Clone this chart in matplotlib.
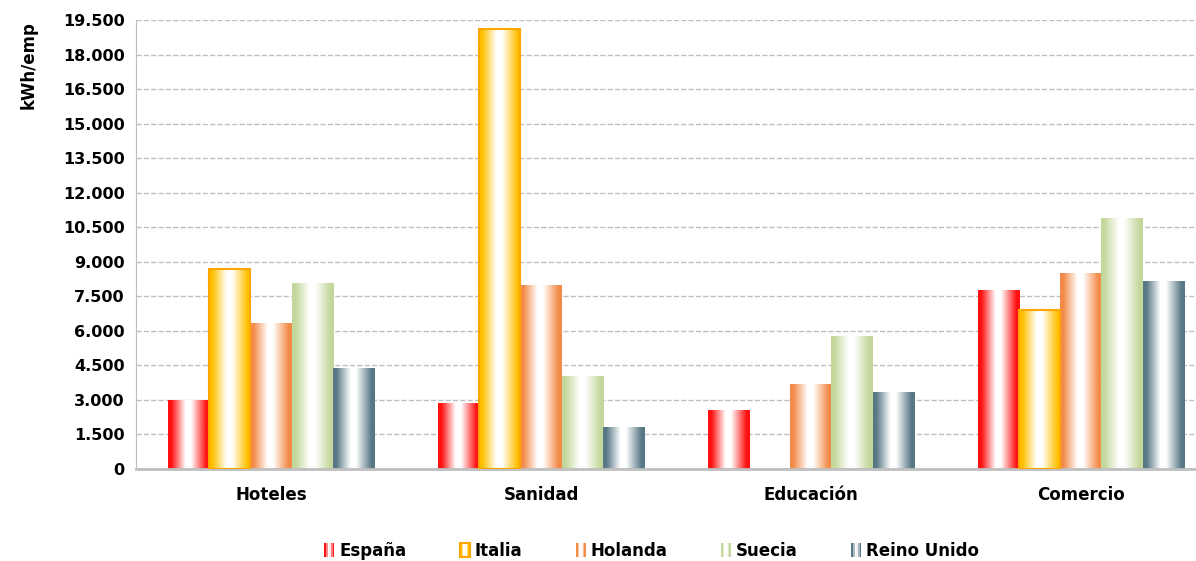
import numpy as np
import matplotlib
matplotlib.use("Agg")
import matplotlib.pyplot as plt
from matplotlib.colors import LinearSegmentedColormap
from matplotlib.legend_handler import HandlerBase
from matplotlib.patches import Rectangle

categories = ["Hoteles", "Sanidad", "Educación", "Comercio"]
countries = ["España", "Italia", "Holanda", "Suecia", "Reino Unido"]
espana = [3000, 2870, 2560, 7780]
italia = [8700, 19100, 0, 6900]
holanda = [6350, 7990, 3690, 8520]
suecia = [8080, 4040, 5780, 10900]
reino_unido = [4390, 1830, 3340, 8160]
yticks = np.arange(0, 19501, 1500)

series = [espana, italia, holanda, suecia, reino_unido]
colors = ["#FF1010", "#FFC000", "#F38A48", "#C4D79B", "#587886"]
edges = [None, "#FFA500", None, None, None]

plt.rcParams["font.family"] = "DejaVu Sans"
plt.rcParams["font.weight"] = "bold"

fig = plt.figure(figsize=(11.96, 5.61), dpi=100)
# the plot area runs past the right edge of the picture, as in the source
ax = fig.add_axes([0.1137, 0.164, 0.903, 0.8003])


def gradient_cmap(c):
    return LinearSegmentedColormap.from_list(
        "g", [(0, c), (0.08, c), (0.42, "white"), (0.55, "white"), (0.92, c), (1, c)])


n = len(series)
group_w = 0.76
w = group_w / n
x = np.arange(len(categories))

for i, (vals, c) in enumerate(zip(series, colors)):
    bars = ax.bar(x - group_w / 2 + w * (i + 0.5), vals, width=w, color="none",
                  edgecolor="none", linewidth=1.5, zorder=3)
    grad = np.linspace(0, 1, 256).reshape(1, -1)
    for b in bars:
        if b.get_height() <= 0:
            continue
        if edges[i]:
            b.set_edgecolor(edges[i])
        bx, by = b.get_x(), b.get_y()
        im = ax.imshow(grad, cmap=gradient_cmap(c), aspect="auto",
                       extent=[bx, bx + b.get_width(), by, by + b.get_height()], zorder=2)
        im.set_clip_path(b)

ax.set_xlim(-0.5, len(categories) - 0.5)
ax.set_ylim(0, 19500)
ax.set_yticks(yticks)
ax.set_yticklabels([f"{v:,}".replace(",", ".") for v in yticks], fontsize=11.5, fontweight="bold")
ax.set_xticks(x)
ax.set_xticklabels(categories, fontsize=12, fontweight="bold")
ax.tick_params(axis="x", length=0, pad=12)
ax.tick_params(axis="y", length=0, pad=8)
ax.grid(axis="y", color="#C0C0C0", linestyle="--", linewidth=1, zorder=0)
ax.set_axisbelow(True)
for s in ["top", "right"]:
    ax.spines[s].set_visible(False)
ax.spines["left"].set_color("#BFBFBF")
ax.spines["bottom"].set_color("#BFBFBF")
ax.spines["bottom"].set_linewidth(2)
ax.set_ylabel("kWh/emp", fontsize=12, fontweight="bold")
ax.yaxis.set_label_coords(-0.091, 0.9)


class GradHandler(HandlerBase):
    def __init__(self, color, edge=None):
        super().__init__()
        self.color = color
        self.edge = edge

    def create_artists(self, legend, orig_handle, xdescent, ydescent, width, height, fontsize, trans):
        arts = []
        cm = gradient_cmap(self.color)
        k = 6
        sw = width / k
        for j in range(k):
            r = Rectangle((-xdescent + j * sw, -ydescent), sw, height,
                          facecolor=cm((j + 0.5) / k), edgecolor="none", transform=trans)
            arts.append(r)
        if self.edge:
            arts.append(Rectangle((-xdescent, -ydescent), width, height, facecolor="none",
                                  edgecolor=self.edge, linewidth=1.5, transform=trans))
        return arts


handles = [Rectangle((0, 0), 1, 1) for _ in countries]
hmap = {h: GradHandler(c, e) for h, c, e in zip(handles, colors, edges)}
fig.legend(handles, countries, handler_map=hmap, loc="lower center", bbox_to_anchor=(0.545, -0.025),
           ncol=5, frameon=False, handlelength=0.6, handleheight=0.9,
           handletextpad=0.3, columnspacing=3.2, prop={"weight": "bold", "size": 12})

fig.savefig("out.png", dpi=100)
